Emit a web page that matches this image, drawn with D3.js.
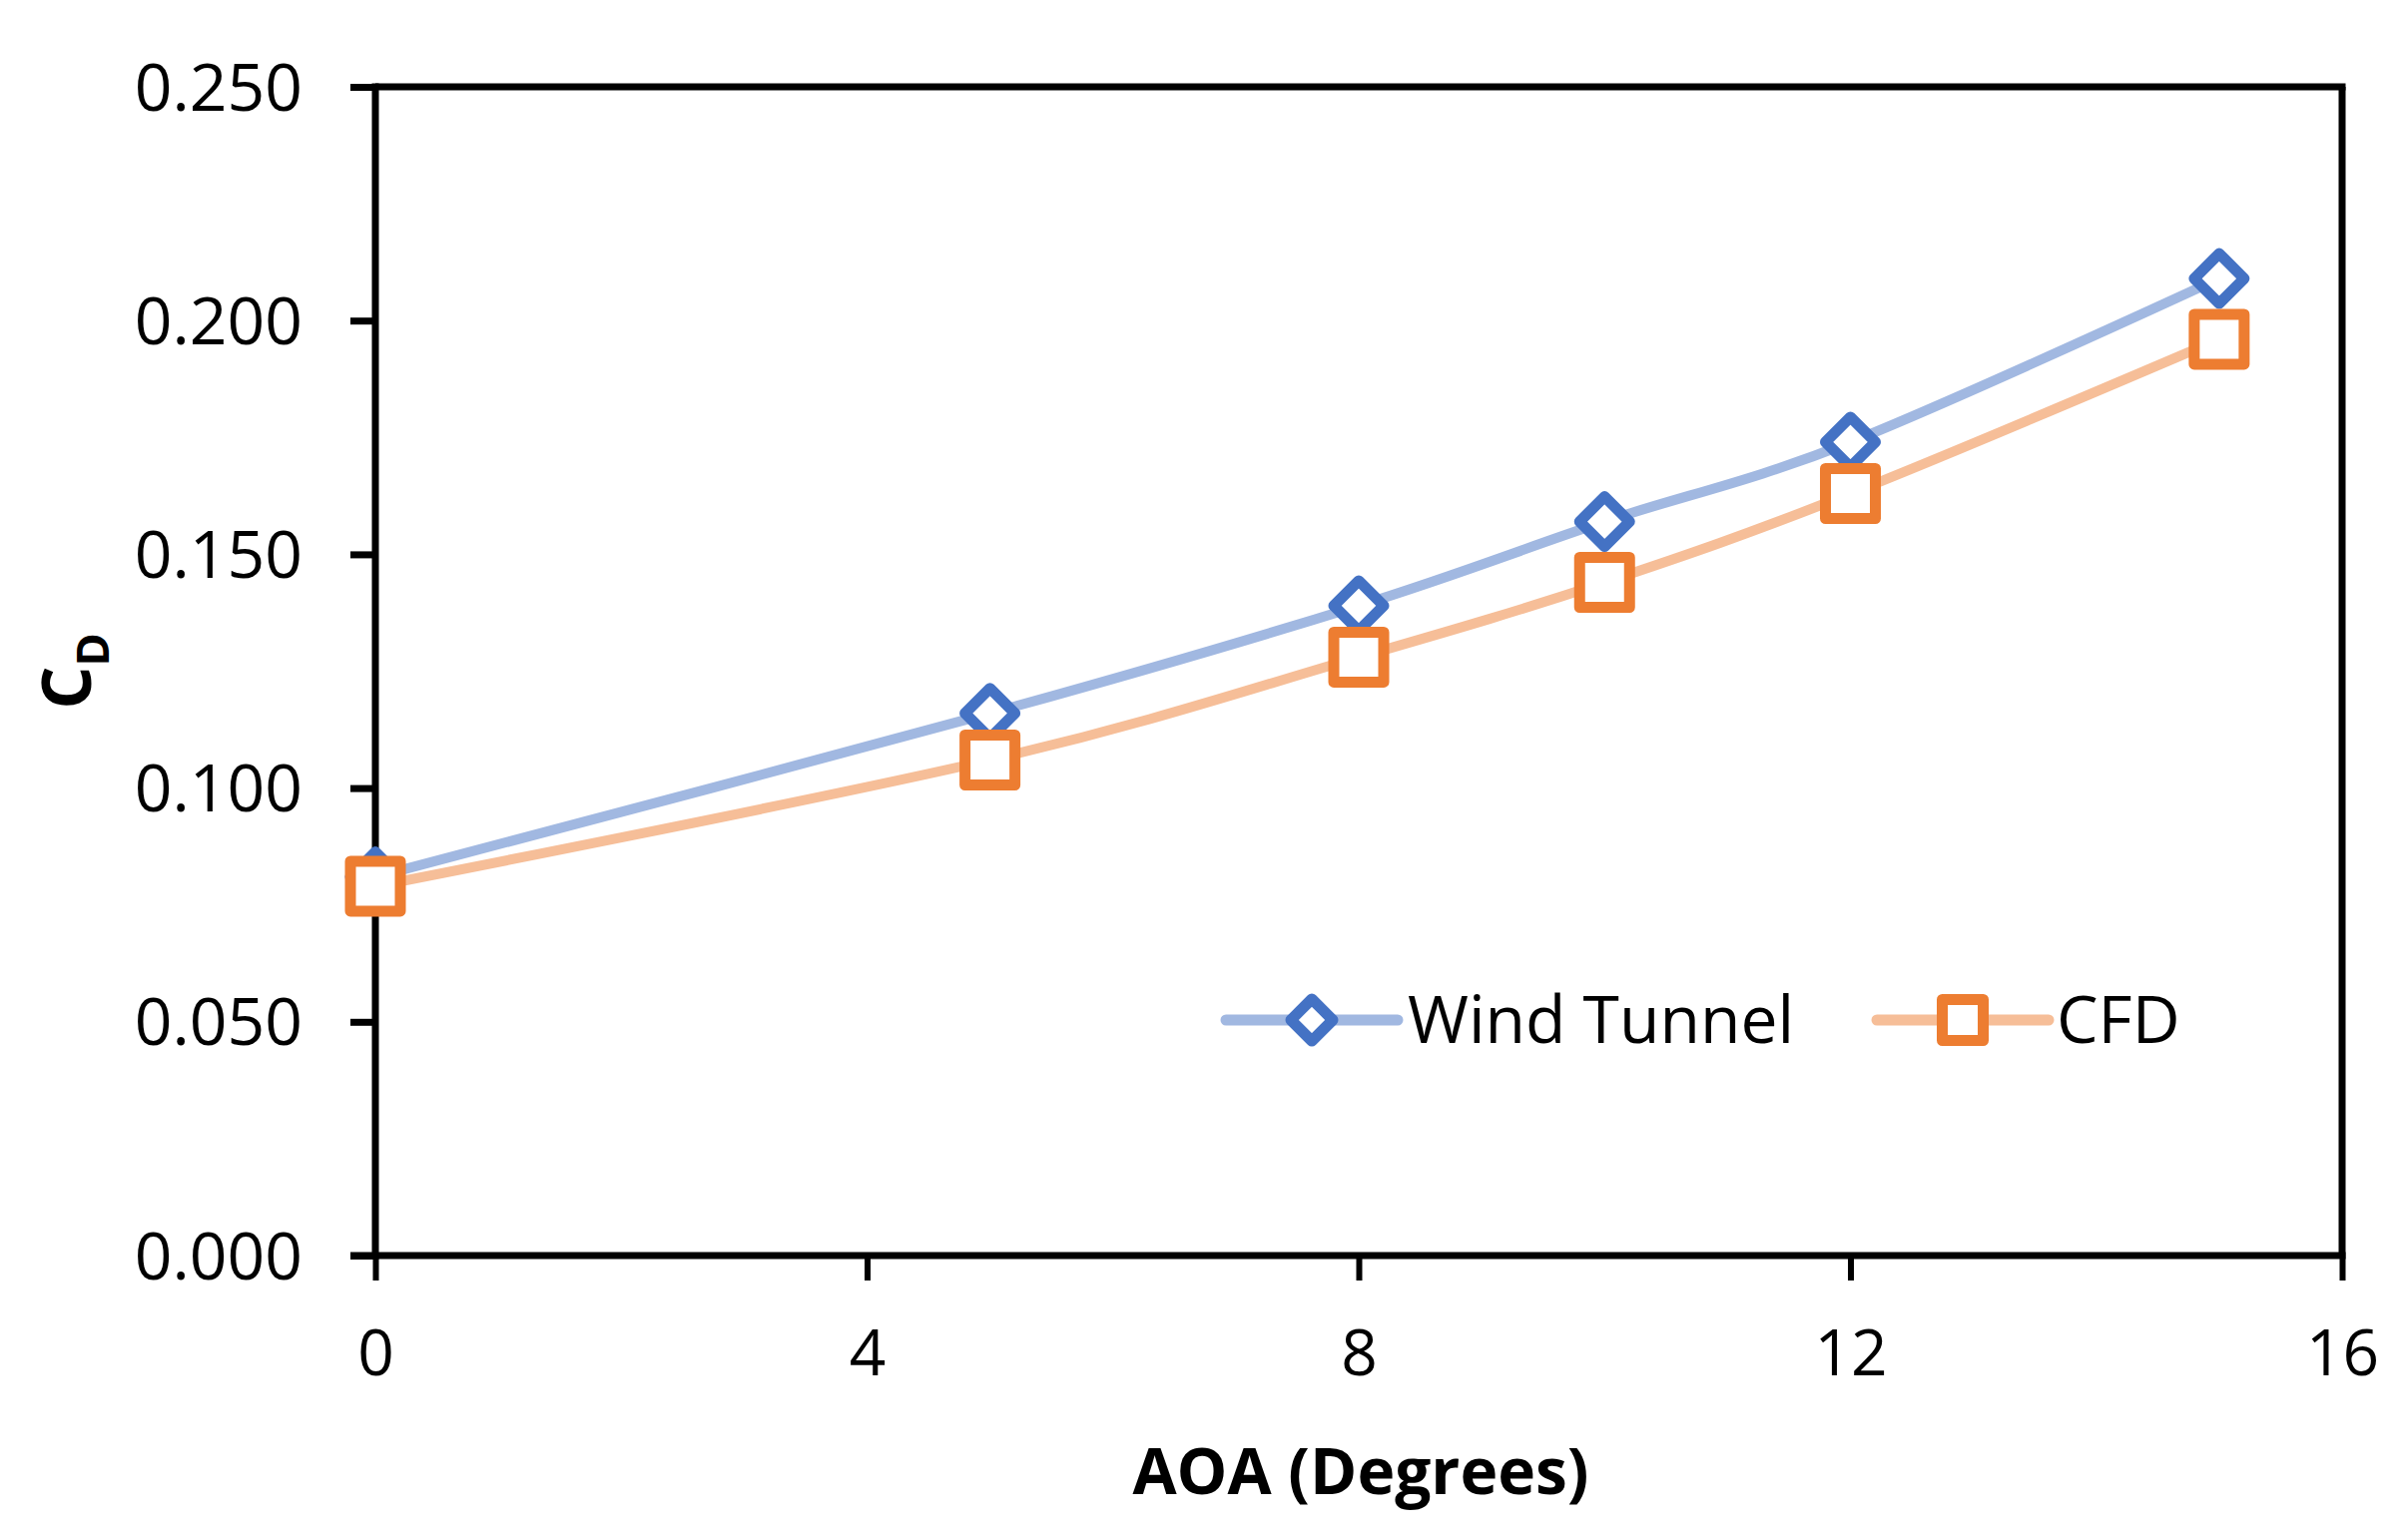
<!DOCTYPE html>
<html>
<head>
<meta charset="utf-8">
<script src="https://cdn.jsdelivr.net/npm/d3@7/dist/d3.min.js"></script>
<style>
  html, body { margin: 0; padding: 0; background: #fff; }
  svg { display: block; }
  text { font-family: "Open Sans", "Noto Sans", sans-serif; fill: #000; }
</style>
</head>
<body>
<svg id="chart" width="2412" height="1542"></svg>
<script>
// ---- data ----
const aoa = [0, 5, 8, 10, 12, 15];
const windTunnel = [0.081, 0.116, 0.139, 0.157, 0.174, 0.209];
const cfd = [0.079, 0.106, 0.128, 0.144, 0.163, 0.196];
const xTicks = [0, 4, 8, 12, 16];
const yTicks = [0, 0.05, 0.1, 0.15, 0.2, 0.25];
const seriesNames = ["Wind Tunnel", "CFD"];
const xTitle = "AOA (Degrees)";

// ---- layout ----
const svg = d3.select("#chart");
const L = 376, R = 2346, T = 87, B = 1258;
const x = d3.scaleLinear().domain([0, 16]).range([L, R]);
const y = d3.scaleLinear().domain([0, 0.25]).range([B, T]);

const axisW = 7;
const tickLen = 25;

// plot border (top & right)
svg.append("line").attr("x1", L).attr("x2", R + axisW/2).attr("y1", T).attr("y2", T)
  .attr("stroke", "#000").attr("stroke-width", axisW);
svg.append("line").attr("x1", R).attr("x2", R).attr("y1", T).attr("y2", B)
  .attr("stroke", "#000").attr("stroke-width", axisW);

// y axis
const yAxis = d3.axisLeft(y).tickValues(yTicks).tickFormat(d3.format(".3f"))
  .tickSize(tickLen).tickPadding(48);
const gy = svg.append("g").attr("transform", `translate(${L},0)`).call(yAxis);
gy.select(".domain").attr("stroke", "#000").attr("stroke-width", axisW)
  .attr("d", `M0,${T - axisW/2}V${B + axisW/2}`);
gy.selectAll(".tick line").attr("stroke", "#000").attr("stroke-width", axisW);
gy.selectAll(".tick text").attr("font-size", 66).attr("dy", "0.35em")
  .style("font-family", '"Open Sans", sans-serif');

// x axis
const xAxis = d3.axisBottom(x).tickValues(xTicks).tickFormat(d3.format("d"))
  .tickSize(tickLen).tickPadding(50);
const gx = svg.append("g").attr("transform", `translate(0,${B})`).call(xAxis);
gx.select(".domain").attr("stroke", "#000").attr("stroke-width", axisW)
  .attr("d", `M${L - tickLen},0H${R + axisW/2}`);
gx.selectAll(".tick line").attr("stroke", "#000").attr("stroke-width", 6);
gx.selectAll(".tick text").attr("font-size", 64).attr("dy", "0.71em")
  .style("font-family", '"Open Sans", sans-serif');

// titles
svg.append("text").attr("x", (L + R) / 2 + 2).attr("y", 1497)
  .attr("text-anchor", "middle").attr("font-size", 64).attr("font-weight", "bold")
  .text(xTitle);

const yt = svg.append("text").attr("transform", `translate(91,${(T + B) / 2}) rotate(-90)`)
  .attr("text-anchor", "middle").attr("font-weight", "bold");
yt.append("tspan").attr("font-size", 68).text("C");
yt.append("tspan").attr("font-size", 45).attr("dy", 18).text("D");

// ---- series ----
const series = [
  { name: seriesNames[0], values: windTunnel, line: "#A1B8E1", marker: "#4472C4", shape: "diamond" },
  { name: seriesNames[1], values: cfd, line: "#F6BE98", marker: "#ED7D31", shape: "square" }
];

const lineGen = d3.line().x(d => x(d[0])).y(d => y(d[1])).curve(d3.curveCardinal.tension(0));

function markerPath(shape, s) {
  if (shape === "diamond") return `M0,${-s}L${s},0L0,${s}L${-s},0Z`;
  return `M${-s},${-s}H${s}V${s}H${-s}Z`;
}

series.forEach(sr => {
  const pts = aoa.map((a, i) => [a, sr.values[i]]);
  svg.append("path").attr("d", lineGen(pts)).attr("fill", "none")
    .attr("stroke", sr.line).attr("stroke-width", 10).attr("stroke-linecap", "round");
  svg.append("g").selectAll("path").data(pts).join("path")
    .attr("transform", d => `translate(${x(d[0])},${y(d[1])})`)
    .attr("d", markerPath(sr.shape, 25))
    .attr("fill", "#fff").attr("stroke", sr.marker).attr("stroke-width", 11)
    .attr("stroke-linejoin", "round");
});

// ---- legend ----
const legendY = 1022;
const legendItems = [
  { x1: 1228, x2: 1400, tx: 1410 },
  { x1: 1880, x2: 2052, tx: 2060 }
];
series.forEach((sr, i) => {
  const it = legendItems[i];
  const g = svg.append("g");
  g.append("line").attr("x1", it.x1).attr("x2", it.x2).attr("y1", legendY).attr("y2", legendY)
    .attr("stroke", sr.line).attr("stroke-width", 11).attr("stroke-linecap", "round");
  g.append("path").attr("transform", `translate(${(it.x1 + it.x2) / 2},${legendY})`)
    .attr("d", markerPath(sr.shape, sr.shape === "diamond" ? 21 : 20.5))
    .attr("fill", "#fff").attr("stroke", sr.marker).attr("stroke-width", 11)
    .attr("stroke-linejoin", "round");
  g.append("text").attr("x", it.tx).attr("y", legendY).attr("dy", "0.35em")
    .attr("font-size", 66).text(sr.name);
});
</script>
</body>
</html>
